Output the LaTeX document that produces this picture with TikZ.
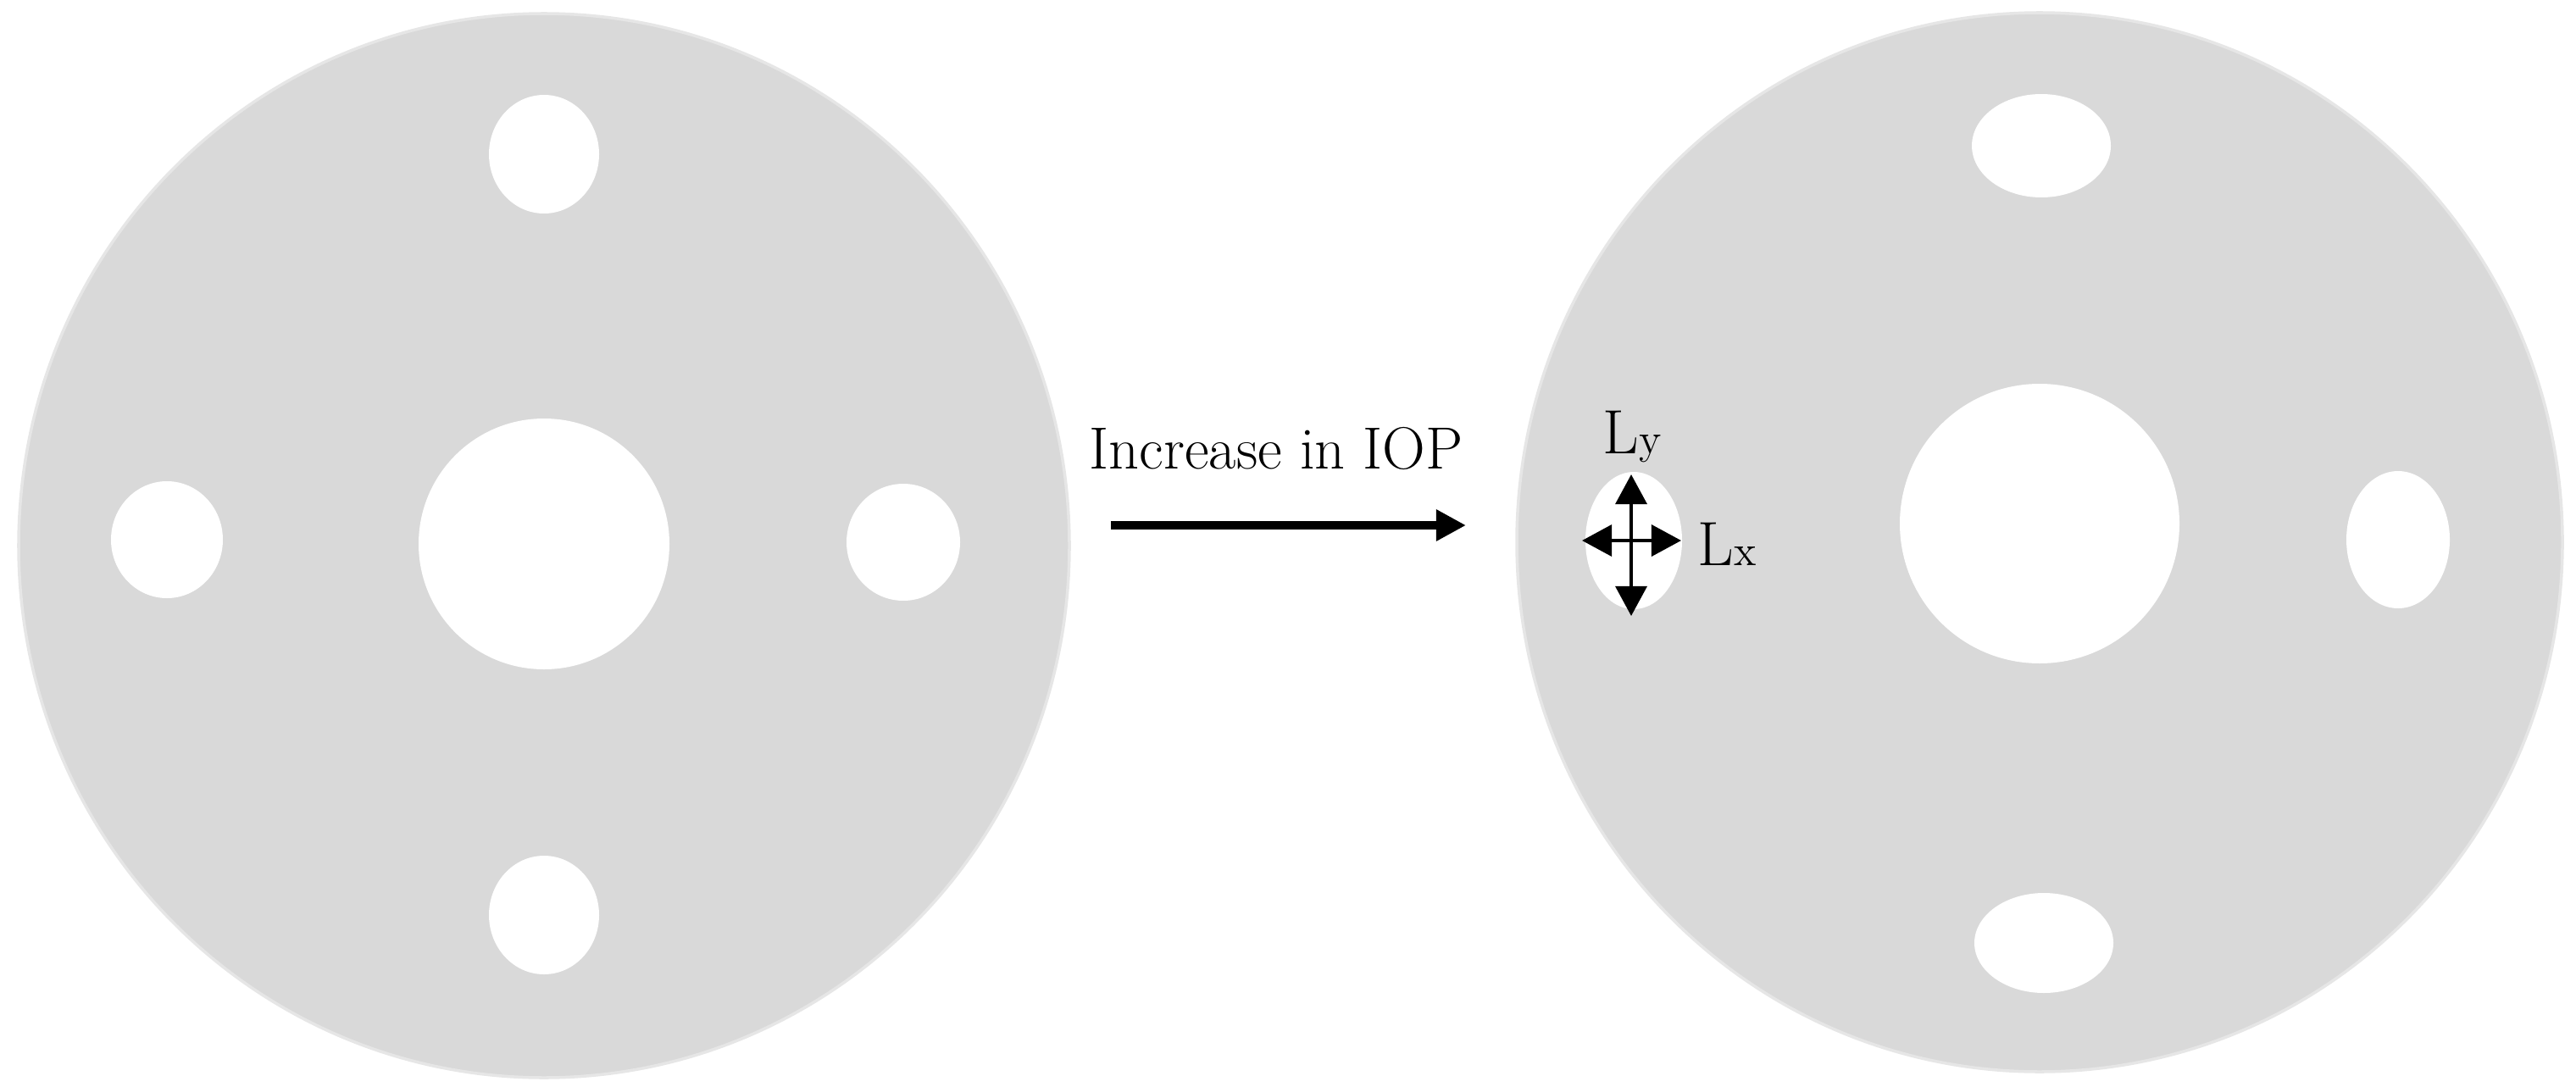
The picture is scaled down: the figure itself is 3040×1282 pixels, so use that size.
\documentclass[tikz,border=0pt]{standalone}
\usetikzlibrary{arrows.meta}

\definecolor{diskgray}{HTML}{D9D9D9}
\definecolor{rimgray}{HTML}{E6E6E6}
\newcommand{\axislabel}[1]{L{\fontsize{14.5}{16}\selectfont #1}}

\begin{document}
\begin{tikzpicture}[
    x=0.01cm, y=-0.01cm,
    disk/.style={fill=diskgray, draw=rimgray, line width=1pt},
    hole/.style={fill=white},
    lbl/.style={inner sep=0pt, anchor=base west, font=\fontsize{20}{24}\selectfont},
    arrow/.style={-{Triangle[length=10pt, width=10pt]}, line width=2.8pt, black},
    axis/.style={{Triangle[length=10pt, width=10.5pt]}-{Triangle[length=10pt, width=10.5pt]}, line width=1.2pt, black}
]
\useasboundingbox (0,0) rectangle (3040,1282);

% Disque de gauche : trous ronds
\draw[disk] (642,644) ellipse [x radius=620, y radius=628];
\fill[hole] (642,642) circle [radius=148];
\fill[hole] (642,182) ellipse [x radius=65, y radius=70];
\fill[hole] (642,1080) ellipse [x radius=65, y radius=70];
\fill[hole] (197,637) ellipse [x radius=66, y radius=69];
\fill[hole] (1066,640) ellipse [x radius=67, y radius=69];

% Disque de droite : trous deformes
\draw[disk] (2407,640) ellipse [x radius=617, y radius=625];
\fill[hole] (2407,618) circle [radius=165];
\fill[hole] (2409,172) ellipse [x radius=82, y radius=61];
\fill[hole] (2412,1113) ellipse [x radius=82, y radius=59];
\fill[hole] (1928,638) ellipse [x radius=57, y radius=81];
\fill[hole] (2830,637) ellipse [x radius=61, y radius=81];

% Fleche principale
\node[lbl] (iop) at (1285,553) {Increase in IOP};
\coordinate (iopfrom) at (1311,620);
\coordinate (iopto) at (1730,620);
\draw[arrow] (iopfrom) -- (iopto);

% Axes Lx et Ly
\coordinate (lytop) at (1925,560);
\coordinate (lybot) at (1925,727);
\coordinate (lxleft) at (1867,638);
\coordinate (lxright) at (1984,638);
\draw[axis] (lybot) -- (lytop);
\draw[axis] (lxleft) -- (lxright);
\node[lbl, font=\fontsize{21}{24}\selectfont] (ly) at (1891,535) {\axislabel{y}};
\node[lbl, font=\fontsize{21}{24}\selectfont] (lx) at (2003,667) {\axislabel{x}};

\end{tikzpicture}
\end{document}
